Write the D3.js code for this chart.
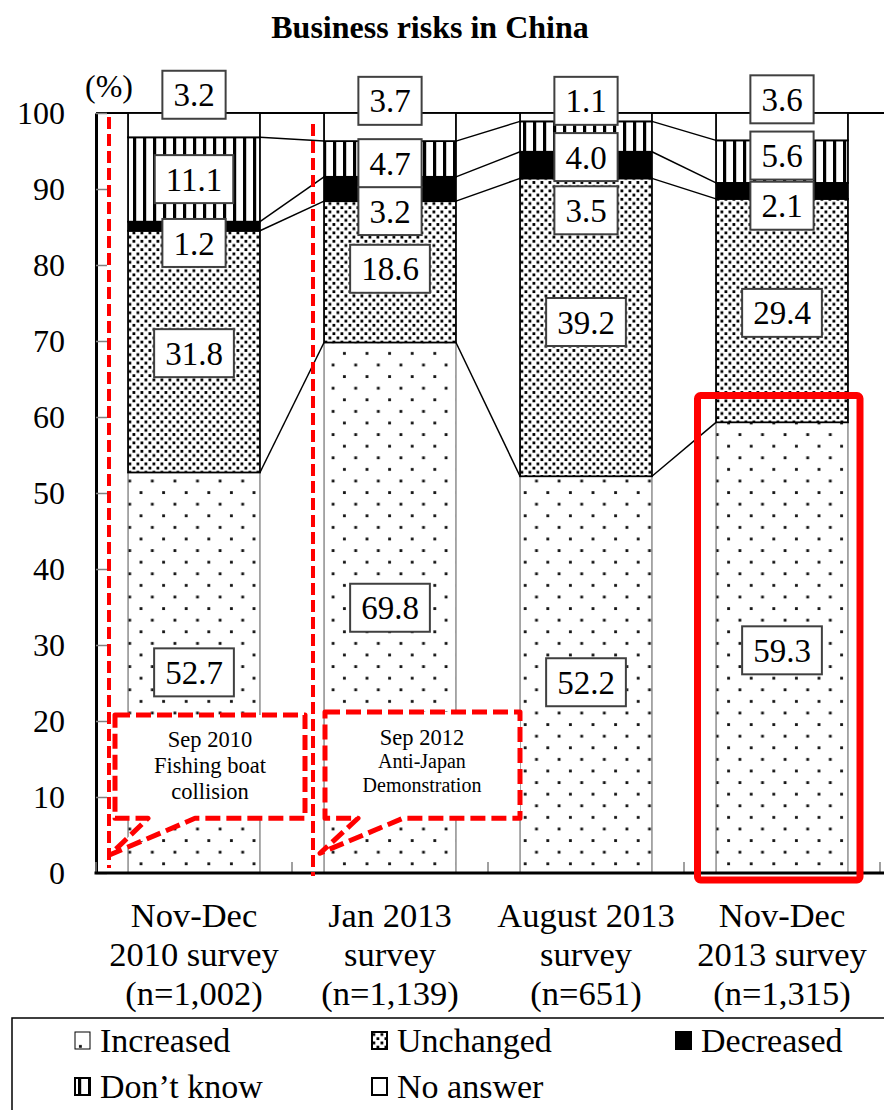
<!DOCTYPE html>
<html>
<head>
<meta charset="utf-8">
<script src="https://cdn.jsdelivr.net/npm/d3@7"></script>
<style>
  body { margin: 0; background: #fff; }
  text { font-family: 'Liberation Serif', 'Times New Roman', serif; fill: #000; }
</style>
</head>
<body>
<div class="container"></div>
<script>
var surveys = [
    ['Nov-Dec', '2010 survey', '(n=1,002)'],
    ['Jan 2013', 'survey', '(n=1,139)'],
    ['August 2013', 'survey', '(n=651)'],
    ['Nov-Dec', '2013 survey', '(n=1,315)']
];
var seriesNames = ['Increased', 'Unchanged', 'Decreased', 'Don\u2019t know', 'No answer'];

var increased = [52.7, 69.8, 52.2, 59.3];
var unchanged = [31.8, 18.6, 39.2, 29.4];
var decreased = [1.2, 3.2, 3.5, 2.1];
var dontKnow  = [11.1, 4.7, 4.0, 5.6];
var noAnswer  = [3.2, 3.7, 1.1, 3.6];

var yTicks = [0, 10, 20, 30, 40, 50, 60, 70, 80, 90, 100];

// where each value label sits, in % units (picked by hand like in the original)
var labelAt = [
    [26.4, 34.9, 25.1, 29.3],
    [68.4, 79.5, 72.5, 73.7],
    [82.9, 87.1, 87.2, 87.8],
    [91.3, 93.4, 94.2, 94.4],
    [102.4, 101.6, 101.6, 101.8]
];

var translate = function (x, y) {
    return 'translate(' + x + ', ' + y + ')';
};

var visualize = function () {
    const WIDTH = 884;
    const HEIGHT = 1110;
    const LEFT = 96;
    const RIGHT = 880;
    const RED = '#ff0000';

    var svg = d3.select('.container').append('svg')
        .attr('width', WIDTH)
        .attr('height', HEIGHT);

    var yScale = d3.scaleLinear().domain([0, 100]).range([873, 113]);
    var xScale = d3.scaleBand().domain(d3.range(surveys.length))
        .range([LEFT, RIGHT]).paddingInner(0.327).paddingOuter(0.1635);
    var bw = xScale.bandwidth();

    // patterns
    var defs = svg.append('defs');
    var p1 = defs.append('pattern').attr('id', 'sparse').attr('patternUnits', 'userSpaceOnUse')
        .attr('width', 22.6).attr('height', 23.2);
    p1.append('rect').attr('width', 22.6).attr('height', 23.2).attr('fill', '#fff');
    p1.append('rect').attr('x', 4).attr('y', 4).attr('width', 2.8).attr('height', 2.8).attr('fill', '#111');
    p1.append('rect').attr('x', 15.3).attr('y', 15.6).attr('width', 2.8).attr('height', 2.8).attr('fill', '#111');

    var p2 = defs.append('pattern').attr('id', 'dense').attr('patternUnits', 'userSpaceOnUse')
        .attr('width', 8).attr('height', 8.4);
    p2.append('rect').attr('width', 8).attr('height', 8.4).attr('fill', '#fff');
    p2.append('rect').attr('x', 0.5).attr('y', 0.5).attr('width', 2.8).attr('height', 2.8).attr('fill', '#000');
    p2.append('rect').attr('x', 4.5).attr('y', 4.7).attr('width', 2.8).attr('height', 2.8).attr('fill', '#000');

    var p3 = defs.append('pattern').attr('id', 'stripes').attr('patternUnits', 'userSpaceOnUse')
        .attr('width', 10).attr('height', 10);
    p3.append('rect').attr('width', 10).attr('height', 10).attr('fill', '#fff');
    p3.append('rect').attr('x', 3).attr('width', 3.2).attr('height', 10).attr('fill', '#000');

    var fills = ['url(#sparse)', 'url(#dense)', '#000', 'url(#stripes)', '#fff'];

    var table = surveys.map(function (s, i) {
        return {i: i, Increased: increased[i], Unchanged: unchanged[i], Decreased: decreased[i],
            'Don\u2019t know': dontKnow[i], 'No answer': noAnswer[i]};
    });
    var stacked = d3.stack().keys(seriesNames)(table);

    // title
    svg.append('text').attr('x', 430).attr('y', 38)
        .attr('text-anchor', 'middle').attr('font-size', 32).attr('font-weight', 'bold')
        .text('Business risks in China');

    // plot frame top
    svg.append('line').attr('x1', LEFT).attr('x2', WIDTH).attr('y1', yScale(100)).attr('y2', yScale(100))
        .attr('stroke', '#000').attr('stroke-width', 2);

    // bars
    var layers = svg.append('g').selectAll('g').data(stacked).enter().append('g')
        .attr('fill', function (d, j) { return fills[j]; });
    layers.selectAll('rect').data(function (d) { return d; }).enter().append('rect')
        .attr('x', function (d, i) { return xScale(i); })
        .attr('y', function (d) { return yScale(d[1]); })
        .attr('width', bw)
        .attr('height', function (d) { return yScale(d[0]) - yScale(d[1]); })
        .attr('stroke', function () { return d3.select(this.parentNode).datum().index === 0 ? '#555' : '#000'; })
        .attr('stroke-width', function () { return d3.select(this.parentNode).datum().index === 0 ? 1 : 1.8; });

    // series lines between bars
    var linkGroup = svg.append('g').attr('stroke', '#000').attr('stroke-width', 1.5);
    stacked.forEach(function (layer) {
        for (var i = 0; i < layer.length - 1; i++) {
            linkGroup.append('line')
                .attr('x1', xScale(i) + bw).attr('y1', yScale(layer[i][1]))
                .attr('x2', xScale(i + 1)).attr('y2', yScale(layer[i + 1][1]));
        }
    });

    // y axis, ticks pointing inward
    var yAxis = d3.axisLeft(yScale).tickValues(yTicks)
        .tickSizeInner(-11).tickSizeOuter(0).tickPadding(31);
    var yg = svg.append('g').attr('transform', translate(LEFT, 0)).call(yAxis);
    yg.select('.domain').attr('stroke', '#000').attr('stroke-width', 3);
    yg.selectAll('.tick line').attr('stroke', '#808080').attr('stroke-width', 1.5);
    yg.selectAll('.tick text').attr('font-size', 32).attr('font-family', null).attr('dy', '0.34em');

    svg.append('text').attr('x', 109).attr('y', 97).attr('text-anchor', 'middle')
        .attr('font-size', 32).text('(%)');

    // x axis
    var bounds = d3.range(surveys.length + 1).map(function (i) {
        return LEFT + i * xScale.step();
    });
    svg.append('g').selectAll('line').data(bounds).enter().append('line')
        .attr('x1', function (d) { return d; }).attr('x2', function (d) { return d; })
        .attr('y1', yScale(0)).attr('y2', yScale(0) - 11)
        .attr('stroke', '#808080').attr('stroke-width', 1.5);
    svg.append('line').attr('x1', LEFT - 1.5).attr('x2', WIDTH).attr('y1', yScale(0)).attr('y2', yScale(0))
        .attr('stroke', '#000').attr('stroke-width', 3);

    var catText = svg.append('g').selectAll('text').data(surveys).enter().append('text')
        .attr('text-anchor', 'middle').attr('font-size', 34.5)
        .attr('transform', function (d, i) { return translate(xScale(i) + bw / 2, 927); });
    catText.selectAll('tspan').data(function (d) { return d; }).enter().append('tspan')
        .attr('x', 0).attr('y', function (d, k) { return k * 39; })
        .text(function (d) { return d; });

    // red annotations
    var red = svg.append('g').attr('fill', 'none').attr('stroke', RED);
    red.append('line').attr('x1', 109).attr('x2', 109).attr('y1', 117).attr('y2', 868)
        .attr('stroke-width', 4).attr('stroke-dasharray', '12 5');
    red.append('line').attr('x1', 313).attr('x2', 313).attr('y1', 124).attr('y2', 876)
        .attr('stroke-width', 4).attr('stroke-dasharray', '12 5');

    var callout = function (x0, x1, top, bottom, tailL, tailR, tipX, tipY) {
        return 'M' + x0 + ',' + top + 'H' + x1 + 'V' + bottom + 'H' + tailR +
            'L' + tipX + ',' + tipY + 'L' + tailL + ',' + bottom + 'H' + x0 + 'Z';
    };
    red.append('path').attr('d', callout(115, 305, yScale(20.8), yScale(7.2), 148, 195, 110, yScale(2.4)))
        .attr('fill', '#fff').attr('stroke-width', 5).attr('stroke-dasharray', '15 6')
        .attr('stroke-linejoin', 'round');
    red.append('path').attr('d', callout(325, 520, yScale(21.2), yScale(7.2), 358, 403, 320, yScale(2.6)))
        .attr('fill', '#fff').attr('stroke-width', 5).attr('stroke-dasharray', '15 6')
        .attr('stroke-linejoin', 'round');

    var note1 = svg.append('text').attr('text-anchor', 'middle').attr('font-size', 22.5);
    note1.append('tspan').attr('x', 210).attr('y', 747).text('Sep 2010');
    note1.append('tspan').attr('x', 210).attr('y', 773).text('Fishing boat');
    note1.append('tspan').attr('x', 210).attr('y', 799).text('collision');
    var note2 = svg.append('text').attr('text-anchor', 'middle');
    note2.append('tspan').attr('x', 422).attr('y', 745).attr('font-size', 22.5).text('Sep 2012');
    note2.append('tspan').attr('x', 422).attr('y', 768).attr('font-size', 20).text('Anti-Japan');
    note2.append('tspan').attr('x', 422).attr('y', 792).attr('font-size', 20).text('Demonstration');

    // value labels in boxes
    var labelGroup = svg.append('g');
    stacked.forEach(function (layer, j) {
        layer.forEach(function (d, i) {
            var g = labelGroup.append('g')
                .attr('transform', translate(xScale(i) + bw / 2, yScale(labelAt[j][i])));
            var box = g.append('rect');
            var t = g.append('text').attr('text-anchor', 'middle').attr('font-size', 33)
                .attr('dy', '0.35em').text(d3.format('.1f')(d.data[layer.key]));
            var tw = t.node().getComputedTextLength() + 22;
            box.attr('x', -tw / 2).attr('y', -24).attr('width', tw).attr('height', 48)
                .attr('fill', '#fff').attr('stroke', '#404040').attr('stroke-width', 2);
        });
    });

    // highlight of the latest survey
    svg.append('rect')
        .attr('x', 697.5).attr('y', 395.5).attr('width', 162.5).attr('height', 484.5)
        .attr('rx', 3).attr('fill', 'none').attr('stroke', RED).attr('stroke-width', 7);

    // legend
    svg.append('rect').attr('x', 12).attr('y', 1018).attr('width', 900).attr('height', 120)
        .attr('fill', 'none').attr('stroke', '#000').attr('stroke-width', 1.5);
    var legendPos = [[75, 1041], [372, 1041], [676, 1041], [75, 1087], [372, 1087]];
    var legend = svg.append('g').selectAll('g').data(seriesNames).enter().append('g')
        .attr('transform', function (d, j) { return translate(legendPos[j][0], legendPos[j][1]); });
    legend.append('rect').attr('x', 0).attr('y', -9).attr('width', 15).attr('height', 17)
        .attr('fill', function (d, j) { return fills[j]; })
        .attr('stroke', '#000').attr('stroke-width', function (d, j) { return j === 0 ? 1 : 2; });
    legend.append('text').attr('x', 25).attr('y', 11).attr('font-size', 34)
        .text(function (d) { return d; });
};

window.onload = visualize;
</script>
</body>
</html>
